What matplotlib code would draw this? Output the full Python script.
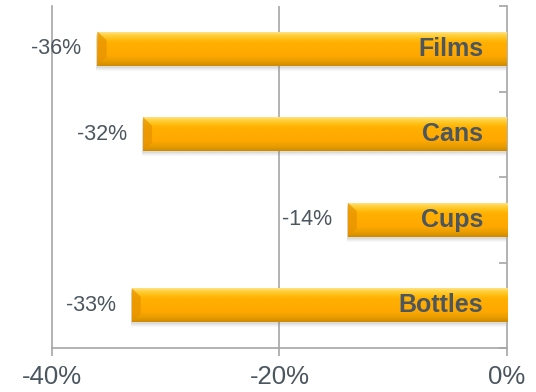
import numpy as np
import matplotlib
matplotlib.use("Agg")
import matplotlib.pyplot as plt
import matplotlib.transforms as mtransforms
from matplotlib.colors import LinearSegmentedColormap
from matplotlib.patches import Polygon

plt.rcParams['font.family'] = ['Liberation Sans', 'DejaVu Sans']

# Datos (de arriba hacia abajo en el grafico)
categorias = ['Films', 'Cans', 'Cups', 'Bottles']
valores = [-36, -32, -14, -33]
etiquetas = ['-36%', '-32%', '-14%', '-33%']
ticks_x = [-40, -20, 0]
ticks_x_lbl = ['-40%', '-20%', '0%']

texto = '#4b565f'
gris = '#a6a6a6'

fig = plt.figure(figsize=(5.36, 3.92), dpi=100)
ax = fig.add_axes([52 / 536, 44 / 392, 455 / 536, 342 / 392])

n = len(categorias)
pos = np.arange(n)[::-1]

# sombra suave debajo de las barras
for k, a in [(5, 0.05), (4, 0.06), (3, 0.08), (2, 0.10)]:
    off = mtransforms.offset_copy(ax.transData, fig=fig, x=-1, y=-k, units='dots')
    ax.barh(pos, valores, height=0.4, color='#7f7f7f', alpha=a,
            transform=off, zorder=2, linewidth=0)

bars = ax.barh(pos, valores, height=0.4, color='#ffa800', zorder=3,
               linewidth=0)

# degradado vertical dentro de cada barra
cmap = LinearSegmentedColormap.from_list('naranja', [
    (0.0, '#cf8a00'), (0.12, '#e69d00'), (0.3, '#ffa800'),
    (0.68, '#ffb000'), (0.8, '#ffc21a'), (0.92, '#ffd650'), (1.0, '#ffe6a0')])
grad = np.linspace(0, 1, 64).reshape(-1, 1)
for b in bars:
    x0, y0, w, h = b.get_x(), b.get_y(), b.get_width(), b.get_height()
    im = ax.imshow(grad, cmap=cmap, aspect='auto', origin='lower',
                   extent=[x0, x0 + w, y0, y0 + h], zorder=4)
    im.set_clip_path(b)
    # bisel en el extremo izquierdo
    xl = min(x0, x0 + w)
    bw = 0.8
    ax.add_patch(Polygon([[xl, y0], [xl + bw, y0 + h * 0.25], [xl + bw, y0 + h * 0.75],
                          [xl, y0 + h]], closed=True, color='#e59200', alpha=0.7,
                         zorder=5, linewidth=0))

# etiquetas de valor y de categoria
for p, v, lbl, cat in zip(pos, valores, etiquetas, categorias):
    ax.annotate(lbl, (v, p), xytext=(-11.5, 0), textcoords='offset points',
                ha='right', va='center', fontsize=15.5, color=texto, zorder=6)
    ax.annotate(cat, (0, p), xytext=(-17, 0), textcoords='offset points',
                ha='right', va='center', fontsize=18, fontweight='bold',
                color=texto, zorder=6)

ax.set_xlim(-40, 0)
ax.set_ylim(-0.5, n - 0.5)
ax.set_xticks(ticks_x)
ax.set_xticklabels(ticks_x_lbl)
ax.axvline(-20, color=gris, lw=1.2, zorder=1)

ax.yaxis.tick_right()
ax.set_yticks(np.arange(-0.5, n, 1.0))
ax.set_yticklabels([])
ax.tick_params(axis='y', direction='in', length=6, width=1.2, color=gris)
ax.tick_params(axis='x', direction='out', length=6, width=1.2, color=gris,
               labelsize=18.5, labelcolor=texto, pad=6)

ax.spines['top'].set_visible(False)
for s in ['left', 'right', 'bottom']:
    ax.spines[s].set_color(gris)
    ax.spines[s].set_linewidth(1.2)

fig.savefig('out.png', dpi=100)
